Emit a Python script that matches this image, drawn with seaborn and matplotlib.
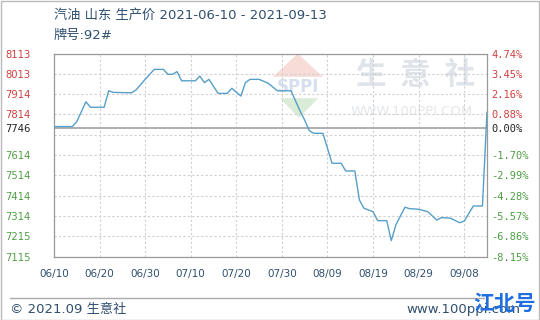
import matplotlib
matplotlib.use("Agg")
import matplotlib.pyplot as plt
import matplotlib.dates as mdates
from matplotlib.patches import Polygon, Rectangle
import numpy as np
import pandas as pd
import seaborn as sns

# ---------------- data ----------------
dates = ["2021-06-10", "2021-06-14", "2021-06-15", "2021-06-17", "2021-06-18",
         "2021-06-21", "2021-06-22", "2021-06-23", "2021-06-27", "2021-06-28",
         "2021-06-30", "2021-07-02", "2021-07-04", "2021-07-05", "2021-07-06",
         "2021-07-07", "2021-07-08", "2021-07-11", "2021-07-12", "2021-07-13",
         "2021-07-14", "2021-07-16", "2021-07-18", "2021-07-19", "2021-07-21",
         "2021-07-22", "2021-07-23", "2021-07-25", "2021-07-27", "2021-07-29",
         "2021-08-01", "2021-08-03", "2021-08-04", "2021-08-05", "2021-08-06",
         "2021-08-08", "2021-08-10", "2021-08-12", "2021-08-13", "2021-08-15",
         "2021-08-16", "2021-08-17", "2021-08-19", "2021-08-20", "2021-08-22",
         "2021-08-23", "2021-08-24", "2021-08-26", "2021-08-27", "2021-08-29",
         "2021-08-31", "2021-09-02", "2021-09-03", "2021-09-05", "2021-09-07",
         "2021-09-08", "2021-09-10", "2021-09-12", "2021-09-13"]
prices = [7754, 7754, 7778, 7876, 7849,
          7849, 7930, 7922, 7920, 7934,
          7986, 8035, 8035, 8011, 8011,
          8024, 7979, 7979, 8002, 7970,
          7986, 7917, 7917, 7942, 7904,
          7970, 7986, 7986, 7967, 7930,
          7930, 7830, 7786, 7734, 7721,
          7721, 7574, 7574, 7536, 7536,
          7394, 7353, 7336, 7292, 7292,
          7194, 7271, 7358, 7351, 7348,
          7336, 7295, 7307, 7304, 7282,
          7290, 7364, 7364, 7825]

base_price = 7746
grid_levels = [8113, 8013.2, 7913.4, 7813.6, 7713.8, 7614, 7514.2, 7414.4, 7314.6, 7214.8, 7115]
left_tick_values = [8113, 8013.2, 7913.4, 7813.6, 7746, 7614, 7514.2, 7414.4, 7314.6, 7214.8, 7115]
left_tick_labels = ["8113", "8013", "7914", "7814", "7746", "7614", "7514", "7414", "7314", "7215", "7115"]
right_tick_labels = ["4.74%", "3.45%", "2.16%", "0.88%", "0.00%", "-1.70%", "-2.99%",
                     "-4.28%", "-5.57%", "-6.86%", "-8.15%"]
x_tick_dates = ["2021-06-10", "2021-06-20", "2021-06-30", "2021-07-10", "2021-07-20",
                "2021-07-30", "2021-08-09", "2021-08-19", "2021-08-29", "2021-09-08"]
x_start, x_end = "2021-06-10", "2021-09-13"

title_text = "汽油 山东 生产价 2021-06-10 - 2021-09-13"
subtitle_text = "牌号:92#"
footer_left = "© 2021.09 生意社"
footer_right = "www.100ppi.com"
overlay_text = "江北号"

# ---------------- style ----------------
sns.set_style("white")
plt.rcParams["font.family"] = ["Noto Sans CJK SC", "DejaVu Sans"]
MIXED = ["DejaVu Sans", "Noto Sans CJK SC"]

RED = "#d04040"
GREEN = "#4f9e45"
LINE = "#579fc8"
TXT = "#2f4f6f"

fig = plt.figure(figsize=(5.4, 3.2), dpi=100)
ax = fig.add_axes([54 / 540, 1 - 256.7 / 320, (487 - 54) / 540, (256.7 - 53.5) / 320])

df = pd.DataFrame({"date": pd.to_datetime(dates), "price": prices})

# watermark (behind data)
wm = dict(transform=ax.transAxes, zorder=0)
ax.add_patch(Polygon([[0.506, 0.885], [0.563, 1.0], [0.621, 0.885]], closed=True,
                     facecolor="#f7dcd8", edgecolor="none", **wm))
ax.add_patch(Polygon([[0.522, 0.78], [0.610, 0.78], [0.566, 0.683]], closed=True,
                     facecolor="#d9ecd6", edgecolor="none", **wm))
ax.text(0.563, 0.835, "SPPI", ha="center", va="center", fontsize=12, fontweight="bold",
        color="#d6dfee", family="DejaVu Sans", **wm)
ax.text(0.836, 0.894, "生  意  社", ha="center", va="center", fontsize=22, color="#dfe4ea",
        fontweight="bold", **wm)
ax.text(0.827, 0.713, "WWW.100PPI.COM", ha="center", va="center", fontsize=9.5,
        color="#e4e7ea", family="DejaVu Sans", **wm)

# grid
for g in grid_levels:
    ax.axhline(g, color="#cfcfcf", lw=0.8, ls=(0, (2, 2)), zorder=1)
for d in x_tick_dates[1:]:
    ax.axvline(pd.Timestamp(d), color="#cfcfcf", lw=0.8, ls=(0, (2, 2)), zorder=1)
ax.axhline(base_price, color="#a8a8a8", lw=1.3, zorder=2)

sns.lineplot(data=df, x="date", y="price", ax=ax, color=LINE, lw=1.0, zorder=3)

ax.set_xlim(pd.Timestamp(x_start), pd.Timestamp(x_end))
ax.set_ylim(grid_levels[-1], grid_levels[0])
ax.set_xlabel("")
ax.set_ylabel("")

for s in ax.spines.values():
    s.set_color("#999999")
    s.set_linewidth(0.9)

# x ticks
ax.set_xticks([pd.Timestamp(d) for d in x_tick_dates])
ax.xaxis.set_major_formatter(mdates.DateFormatter("%m/%d"))
ax.tick_params(axis="x", length=0, pad=9, labelsize=7.5, labelcolor=TXT)
for lab in ax.get_xticklabels():
    lab.set_family("DejaVu Sans")

# left ticks
ax.set_yticks(left_tick_values)
ax.set_yticklabels(left_tick_labels)
ax.tick_params(axis="y", length=0, pad=35, labelsize=7.2)
for v, lab in zip(left_tick_values, ax.get_yticklabels()):
    lab.set_horizontalalignment("left")
    lab.set_family("DejaVu Sans")
    lab.set_color("#222222" if v == base_price else (RED if v > base_price else GREEN))

# right ticks
ax2 = ax.twinx()
ax2.set_ylim(ax.get_ylim())
ax2.set_yticks(left_tick_values)
ax2.set_yticklabels(right_tick_labels)
ax2.tick_params(axis="y", length=0, pad=3, labelsize=7.5)
for v, lab in zip(left_tick_values, ax2.get_yticklabels()):
    lab.set_family("DejaVu Sans Mono")
    lab.set_color("#222222" if v == base_price else (RED if v > base_price else GREEN))
for s in ax2.spines.values():
    s.set_visible(False)

# titles
fig.text(54 / 540, 1 - 15 / 320, title_text, ha="left", va="center", fontsize=9.5,
         color=TXT, family=MIXED)
fig.text(54 / 540, 1 - 35 / 320, subtitle_text, ha="left", va="center", fontsize=9.5,
         color=TXT, family=MIXED)

# footer
fig.add_artist(plt.Line2D([10 / 540, 484 / 540], [1 - 297.5 / 320] * 2, transform=fig.transFigure,
                          color="#aaaaaa", lw=1))
fig.text(10 / 540, 1 - 310 / 320, footer_left, ha="left", va="center", fontsize=9.5,
         color=TXT, family=MIXED)
fig.text(406 / 540, 1 - 310 / 320, footer_right, ha="left", va="center", fontsize=9.5, color=TXT,
         family="DejaVu Sans")
fig.text(505 / 540, 1 - 303 / 320, overlay_text, ha="center", va="center", fontsize=15,
         color="#1f6fe0", fontweight="bold")

# outer frame
fig.add_artist(Rectangle((0.002, 0.0), 0.996, 0.997, transform=fig.transFigure,
                         fill=False, edgecolor="#bbbbbb", lw=1))

fig.savefig("out.png", dpi=100)
